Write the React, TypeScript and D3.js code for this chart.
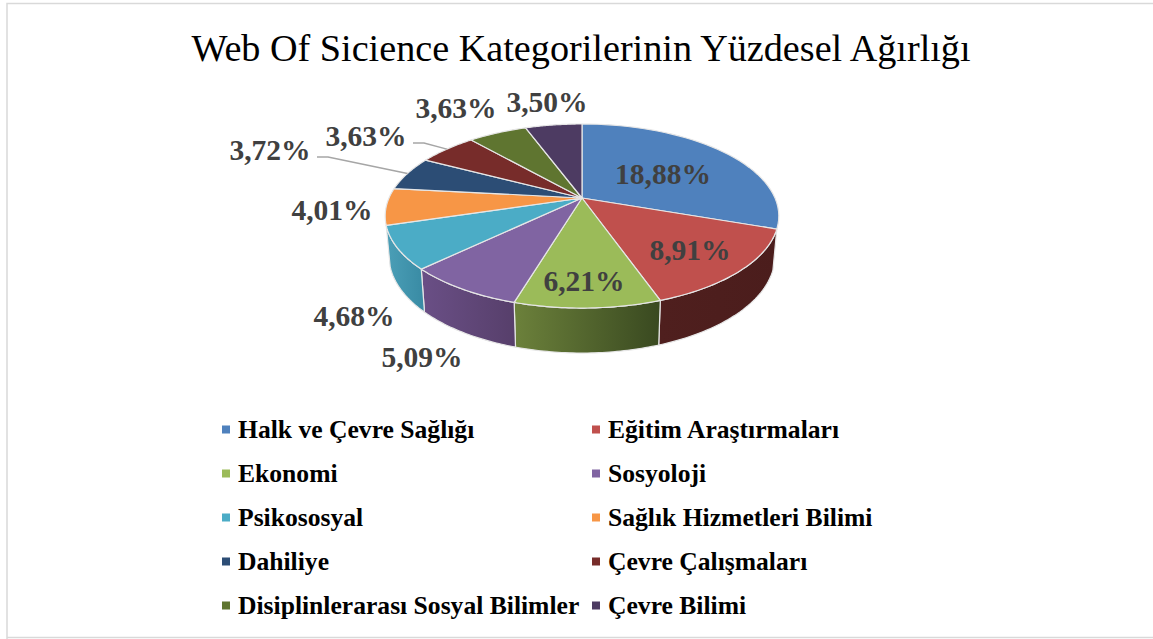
import React from 'react';
import * as d3 from 'd3';

const title = 'Web Of Sicience Kategorilerinin Yüzdesel Ağırlığı';
const categories = [
  'Halk ve Çevre Sağlığı', 'Eğitim Araştırmaları', 'Ekonomi', 'Sosyoloji', 'Psikososyal',
  'Sağlık Hizmetleri Bilimi', 'Dahiliye', 'Çevre Çalışmaları', 'Disiplinlerarası Sosyal Bilimler', 'Çevre Bilimi',
];
const values = [18.88, 8.91, 6.21, 5.09, 4.68, 4.01, 3.72, 3.63, 3.63, 3.5];
const colors = ['#4f81bd', '#c0504d', '#9bbb59', '#8064a2', '#4bacc6', '#f79646', '#2c4d75', '#772c2a', '#5f7530', '#4d3b62'];
// left/right shade of the visible wall, only the four front slices have one
const wallShades: Record<number, [string, string]> = {
  1: ['#4f1f1e', '#4b1d1c'],
  2: ['#6c813b', '#394920'],
  3: ['#6a4f86', '#573f6b'],
  4: ['#4b9fb7', '#3a8ca5'],
};

// label centres, placed by hand like the original chart
const labelPos = [[663, 184], [690, 260], [584, 291], [422, 367], [354, 326], [332, 220], [270, 160], [366, 146], [456, 118], [547, 112]];
const leaderStart: Record<number, [number, number]> = { 6: [317, 157], 7: [413, 143] };

const W = 1153;
const H = 639;
const cx = 582;
const cy = 198;
const R = 193;
const S = 88.5;
const K = 0.1957;

// perspective projection of the unit disc, angle clockwise from 12 o'clock
function rim(a: number): [number, number] {
  const u = Math.sin(a);
  const v = -Math.cos(a);
  const w = 1 - K * v;
  return [cx + (R * u) / w, cy + (S * v) / w];
}
// same point on the lower disc
function low(p: [number, number]): [number, number] {
  return [cx + (p[0] - cx) * 0.98, cy + (p[1] - cy) * 1.05 + 39.5];
}

const line = d3.line();
const arcs = d3.pie<number>().sort(null)(values);
const samples = (a0: number, a1: number) => d3.range(41).map((i) => a0 + ((a1 - a0) * i) / 40);

function topPath(a0: number, a1: number) {
  return line([[cx, cy], ...samples(a0, a1).map(rim)]) + 'Z';
}
function wallPath(a0: number, a1: number) {
  const top = samples(a0, a1).map(rim);
  const bottom = top.map(low).reverse();
  return line([...top, ...bottom]) + 'Z';
}

const legendX = d3.scalePoint<number>().domain([0, 1]).range([222, 592]);
const legendY = d3.scalePoint<number>().domain([0, 1, 2, 3, 4]).range([429.5, 605.5]);
const pct = (v: number) => v.toFixed(2).replace('.', ',') + '%';

export default function App() {
  return (
    <svg width={W} height={H} viewBox={`0 0 ${W} ${H}`} style={{ position: 'absolute', left: 0, top: 0, background: '#fff' }}>
      <path d={`M7 ${H}V3.5H${W}M7 637.5H${W}`} fill="none" stroke="#d9d9d9" strokeWidth={1.5} />
      <text x={581} y={60.5} textAnchor="middle" fontFamily="Liberation Serif" fontSize={38.2} fill="#000">{title}</text>

      <defs>
        {Object.entries(wallShades).map(([i, s]) => {
          const a = arcs[+i];
          const xs = samples(a.startAngle, a.endAngle).map((t) => rim(t)[0]);
          return (
            <linearGradient key={i} id={`wall${i}`} gradientUnits="userSpaceOnUse" x1={d3.min(xs)} x2={d3.max(xs)} y1={0} y2={0}>
              <stop offset="0" stopColor={s[0]} />
              <stop offset="1" stopColor={s[1]} />
            </linearGradient>
          );
        })}
      </defs>

      {Object.keys(wallShades).map((i) => (
        <path key={i} d={wallPath(arcs[+i].startAngle, arcs[+i].endAngle)} fill={`url(#wall${i})`} stroke="#e6e6e6" strokeWidth={1.2} strokeLinejoin="round" />
      ))}
      {arcs.map((a, i) => (
        <path key={i} d={topPath(a.startAngle, a.endAngle)} fill={colors[i]} stroke="#e6e6e6" strokeWidth={1.2} strokeLinejoin="round" />
      ))}

      {Object.entries(leaderStart).map(([i, p]) => {
        const a = arcs[+i];
        const end = rim((a.startAngle + a.endAngle) / 2);
        return (
          <path key={i} d={line([p, [p[0] + 11, p[1]], end]) as string} fill="none" stroke="#a6a6a6" strokeWidth={1.5} />
        );
      })}

      {values.map((v, i) => (
        <text key={i} x={labelPos[i][0]} y={labelPos[i][1]} textAnchor="middle" fontFamily="Liberation Serif" fontWeight="bold" fontSize={29.5} fill="#404040">{pct(v)}</text>
      ))}

      {categories.map((c, i) => {
        const x = legendX(i % 2) as number;
        const y = legendY(Math.floor(i / 2)) as number;
        return (
          <g key={c}>
            <rect x={x} y={y - 4} width={8} height={8} fill={colors[i]} />
            <text x={x + 16} y={y + 8} fontFamily="Liberation Serif" fontWeight="bold" fontSize={25.6} fill="#000">{c}</text>
          </g>
        );
      })}
    </svg>
  );
}
